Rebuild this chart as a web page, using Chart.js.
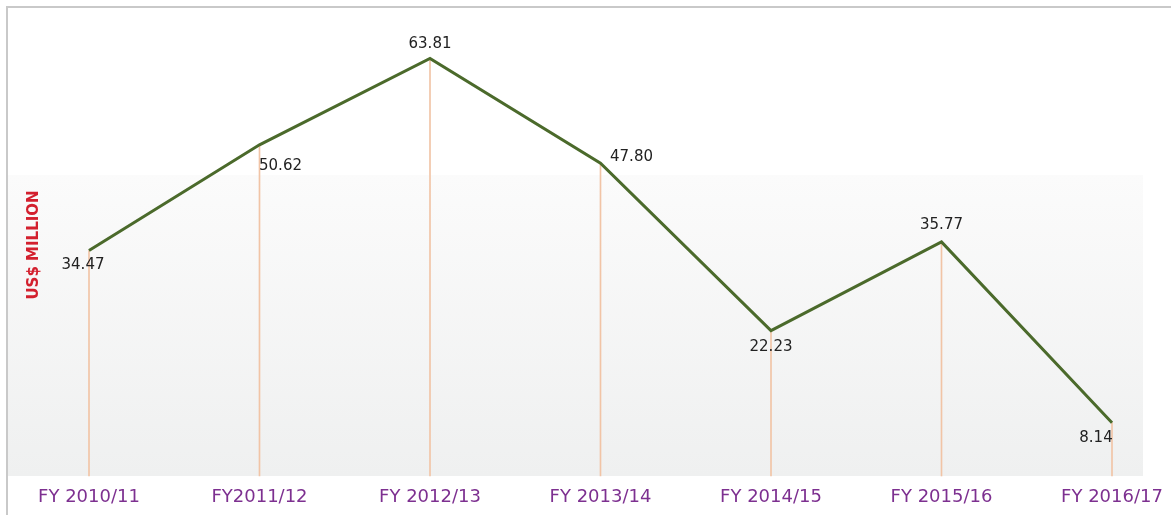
<!DOCTYPE html>
<html lang="en">
<head>
  <meta charset="UTF-8">
  <title>US$ Million by fiscal year</title>
  <script src="https://cdn.jsdelivr.net/npm/chart.js@4"></script>
  <style>
    html, body { margin: 0; padding: 0; background: #fff; }
    #wrap { width: 1171px; height: 515px; position: relative; }
  </style>
</head>
<body>
<div id="wrap"><canvas id="chart-canvas"></canvas></div>

<script>
// data
const years = ['FY 2010/11', 'FY2011/12', 'FY 2012/13', 'FY 2013/14', 'FY 2014/15', 'FY 2015/16', 'FY 2016/17'];
const values = [34.47, 50.62, 63.81, 47.80, 22.23, 35.77, 8.14];
const axisTitle = 'US$ MILLION';

// where each value label sits relative to its point (dx, dy)
const labelOffsets = [[-6, 15], [21, 21], [0, -14], [31, -6], [0, 17], [0, -17], [-16, 15]];

const backdrop = {
  id: 'backdrop',
  beforeDraw(chart) {
    const ctx = chart.ctx;
    const bottom = chart.chartArea.bottom;
    ctx.save();
    const g = ctx.createLinearGradient(0, 175, 0, bottom);
    g.addColorStop(0, '#fbfbfb');
    g.addColorStop(1, '#eff0f0');
    ctx.fillStyle = g;
    ctx.fillRect(8, 175, 1135, bottom - 175);
    // frame
    ctx.strokeStyle = '#c9c9c9';
    ctx.lineWidth = 2;
    ctx.beginPath();
    ctx.moveTo(7, 515);
    ctx.lineTo(7, 7);
    ctx.lineTo(1171, 7);
    ctx.stroke();
    // axis title
    ctx.translate(34, 245);
    ctx.rotate(-Math.PI / 2);
    ctx.fillStyle = '#d3202e';
    ctx.font = 'bold 15px "DejaVu Sans", sans-serif';
    ctx.textAlign = 'center';
    ctx.textBaseline = 'middle';
    ctx.fillText(axisTitle, 0, 0);
    ctx.restore();
  }
};

const valueLabels = {
  id: 'valueLabels',
  afterDatasetsDraw(chart) {
    const ctx = chart.ctx;
    const meta = chart.getDatasetMeta(1);
    ctx.save();
    ctx.fillStyle = '#222';
    ctx.font = '15px "DejaVu Sans", sans-serif';
    ctx.textAlign = 'center';
    ctx.textBaseline = 'middle';
    meta.data.forEach((pt, i) => {
      const off = labelOffsets[i];
      ctx.fillText(values[i].toFixed(2), pt.x + off[0], pt.y + off[1]);
    });
    ctx.restore();
  }
};

new Chart(document.getElementById('chart-canvas'), {
  type: 'line',
  data: {
    labels: years,
    datasets: [
      {
        type: 'bar',
        data: values,
        backgroundColor: '#f1c4a6',
        barThickness: 1,
        clip: false,
        order: 2
      },
      {
        type: 'line',
        data: values,
        borderColor: '#4b6a2b',
        borderWidth: 3,
        pointRadius: 0,
        tension: 0,
        clip: false,
        order: 1
      }
    ]
  },
  options: {
    responsive: true,
    maintainAspectRatio: false,
    animation: false,
    layout: { padding: { left: 89, right: 59, top: 18, bottom: 0 } },
    plugins: {
      legend: { display: false },
      tooltip: { enabled: false }
    },
    scales: {
      x: {
        offset: false,
        afterFit(scale) {
          scale.height = 39;
          scale.paddingLeft = 0;
          scale.paddingRight = 0;
        },
        grid: { display: false, drawTicks: false },
        border: { display: false },
        ticks: {
          color: '#7d3090',
          padding: 11,
          maxRotation: 0,
          autoSkip: false,
          font: { size: 18, family: '"DejaVu Sans", sans-serif' }
        }
      },
      y: {
        display: false,
        min: 0,
        max: 70
      }
    }
  },
  plugins: [backdrop, valueLabels]
});
</script>
</body>
</html>
